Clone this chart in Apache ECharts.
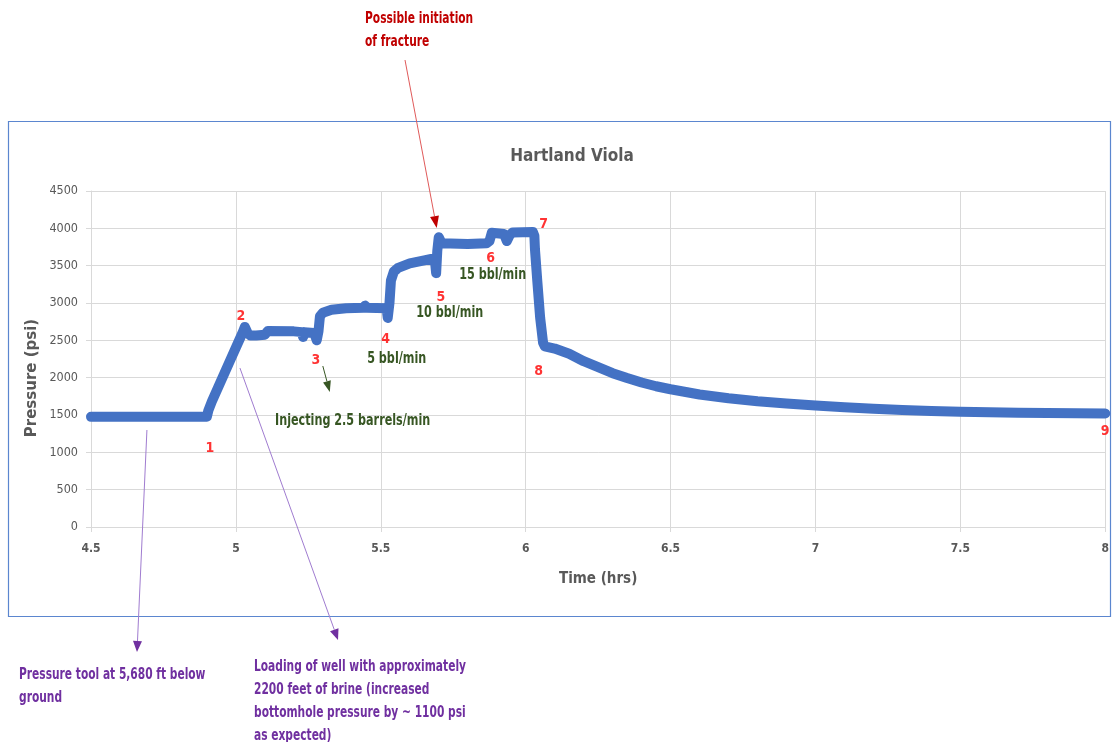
<!DOCTYPE html>
<html><head><meta charset="utf-8">
<script src="https://cdn.jsdelivr.net/npm/echarts@6/dist/echarts.min.js"></script>
<style>html,body{margin:0;padding:0;background:#fff}#c{width:1112px;height:742px}</style>
</head><body><div id="c"></div>
<script>
// ---- data ----
const times = [4.50,4.60,4.70,4.80,4.90,4.905,4.917,4.98,5.025,5.031,5.040,5.05,5.07,5.10,5.11,5.20,5.228,5.232,5.236,5.27,5.279,5.285,5.29,5.30,5.33,5.38,5.44,5.446,5.452,5.52,5.524,5.53,5.535,5.545,5.56,5.60,5.65,5.686,5.691,5.695,5.700,5.71,5.80,5.865,5.875,5.883,5.90,5.925,5.935,5.945,5.955,6.025,6.030,6.032,6.040,6.050,6.060,6.066,6.10,6.15,6.20,6.25,6.30,6.35,6.40,6.45,6.50,6.60,6.70,6.80,6.90,7.00,7.10,7.20,7.30,7.40,7.50,7.60,7.70,7.80,7.90,8.00];
const pressures = [1475,1475,1475,1475,1478,1560,1680,2230,2620,2680,2600,2565,2565,2575,2625,2620,2610,2545,2610,2600,2500,2620,2820,2870,2910,2930,2935,2965,2935,2930,2800,3000,3300,3420,3470,3530,3570,3600,3400,3700,3880,3800,3790,3800,3830,3940,3935,3925,3830,3910,3945,3950,3900,3720,3300,2800,2470,2420,2390,2320,2220,2140,2060,1995,1935,1885,1845,1775,1725,1685,1655,1628,1603,1583,1567,1553,1545,1537,1531,1526,1522,1520];
const yTicks = [0,500,1000,1500,2000,2500,3000,3500,4000,4500];
const xTicks = [4.5,5,5.5,6,6.5,7,7.5,8];
const pointLabels = ['1','2','3','4','5','6','7','8','9'];
const pointTimes = [4.910,5.017,5.276,5.517,5.707,5.879,6.062,6.045,8.0];
const pointPressures = [1058,2826,2237,2518,3080,3603,4058,2089,1286];
const rateLabels = ['5 bbl/min','10 bbl/min','15 bbl/min','Injecting 2.5 barrels/min'];
const rateTimes = [5.555,5.738,5.886,5.403];
const ratePressures = [2250,2866,3375,1420];

const FONT = '"DejaVu Sans Condensed","Liberation Sans",sans-serif';
const chart = echarts.init(document.getElementById('c'));
const lineData = times.map((t,i)=>[t,pressures[i]]);

chart.setOption({
  animation:false,
  backgroundColor:'#fff',
  title:{text:'Hartland Viola',left:567,top:143,textAlign:'center',
    textStyle:{fontFamily:FONT,fontSize:17,fontWeight:'bold',color:'#595959'}},
  grid:{left:91,right:6,top:191,bottom:215,containLabel:false},
  xAxis:{type:'value',min:4.5,max:8,interval:0.5,
    name:'Time (hrs)',nameLocation:'middle',nameGap:45,
    nameTextStyle:{fontFamily:FONT,fontSize:15,fontWeight:'bold',color:'#595959'},
    axisLine:{show:true,lineStyle:{color:'#d9d9d9'}},
    axisTick:{show:true,length:5,lineStyle:{color:'#d9d9d9'}},
    splitLine:{show:true,lineStyle:{color:'#d9d9d9',width:1}},
    axisLabel:{margin:16,fontFamily:FONT,fontSize:12,fontWeight:'bold',color:'#595959',
      formatter:v=>String(v)}},
  yAxis:{type:'value',min:0,max:4500,interval:500,
    axisLine:{show:true,lineStyle:{color:'#d9d9d9'}},
    axisTick:{show:true,length:5,lineStyle:{color:'#d9d9d9'}},
    splitLine:{show:true,lineStyle:{color:'#d9d9d9',width:1}},
    axisLabel:{margin:13,fontFamily:FONT,fontSize:12.5,color:'#595959',formatter:v=>String(v)}},
  series:[
    {type:'line',data:lineData,showSymbol:false,clip:false,smooth:false,
     lineStyle:{color:'#4472c4',width:10,cap:'round',join:'round'},z:3},
    {type:'scatter',symbolSize:0,z:5,silent:true,
     data:pointLabels.map((s,i)=>({name:s,value:[pointTimes[i],pointPressures[i]]})),
     label:{show:true,position:'inside',formatter:p=>p.name,
       fontFamily:FONT,fontSize:14,fontWeight:'bold',color:'#ff0000'}}
  ]
});

function arrow(p0,p1,lineColor,headColor,hl,hw){
  const dx=p1[0]-p0[0], dy=p1[1]-p0[1], L=Math.hypot(dx,dy);
  const ux=dx/L, uy=dy/L, nx=-uy, ny=ux;
  const b=[p1[0]-ux*hl,p1[1]-uy*hl];
  return [
    {type:'line',shape:{x1:p0[0],y1:p0[1],x2:b[0],y2:b[1]},style:{stroke:lineColor,lineWidth:1},z:10},
    {type:'polygon',shape:{points:[p1,[b[0]+nx*hw/2,b[1]+ny*hw/2],[b[0]-nx*hw/2,b[1]-ny*hw/2]]},style:{fill:headColor},z:10}
  ];
}
const px = (t,p)=>chart.convertToPixel({gridIndex:0},[t,p]);
const g = [];
g.push({type:'rect',shape:{x:8.5,y:121.5,width:1102,height:495},style:{fill:null,stroke:'#5b86cf',lineWidth:1.2},z:1});
g.push(...arrow([405,60],px(5.693,4004),'#e05a5a','#c00000',12,9));
g.push(...arrow(px(5.300,2156),px(5.324,1808),'#375623','#375623',11,8));
g.push(...arrow(px(4.693,1299),[137,652],'#a07cd0','#7030a0',11,9));
g.push(...arrow(px(5.014,2129),[338,640],'#a07cd0','#7030a0',11,9));
const purple = {fontFamily:FONT,fontSize:15,fontWeight:'bold',fill:'#7030a0'};
const red = {fontFamily:FONT,fontSize:15,fontWeight:'bold',fill:'#c00000'};
const green = {fontFamily:FONT,fontSize:15,fontWeight:'bold',fill:'#375623'};
function txt(x,y,s,st,align,sx){return {type:'text',x:x,y:y,scaleX:sx,originX:0,
  style:Object.assign({text:s,textVerticalAlign:'middle',textAlign:align||'left'},st),z:10};}
g.push(txt(365,19,'Possible initiation',red,'left',0.79));
g.push(txt(365,42,'of fracture',red,'left',0.79));
g.push(txt(19,675,'Pressure tool at 5,680 ft below',purple,'left',0.79));
g.push(txt(19,698,'ground',purple,'left',0.79));
g.push(txt(254,667,'Loading of well with approximately',purple,'left',0.79));
g.push(txt(254,690,'2200 feet of brine (increased',purple,'left',0.79));
g.push(txt(254,713,'bottomhole pressure by ~ 1100 psi',purple,'left',0.79));
g.push(txt(254,736,'as expected)',purple,'left',0.79));
rateLabels.forEach((s,i)=>{const p=px(rateTimes[i],ratePressures[i]); g.push(txt(p[0],p[1],s,green,'center',0.83));});
// y-axis title
g.push({type:'text',x:32,y:378,rotation:Math.PI/2,
  style:{text:'Pressure (psi)',fontFamily:'"DejaVu Sans",sans-serif',fontSize:15,fontWeight:'bold',fill:'#595959',textAlign:'center',textVerticalAlign:'middle'},z:10});
chart.setOption({graphic:g});
</script></body></html>
